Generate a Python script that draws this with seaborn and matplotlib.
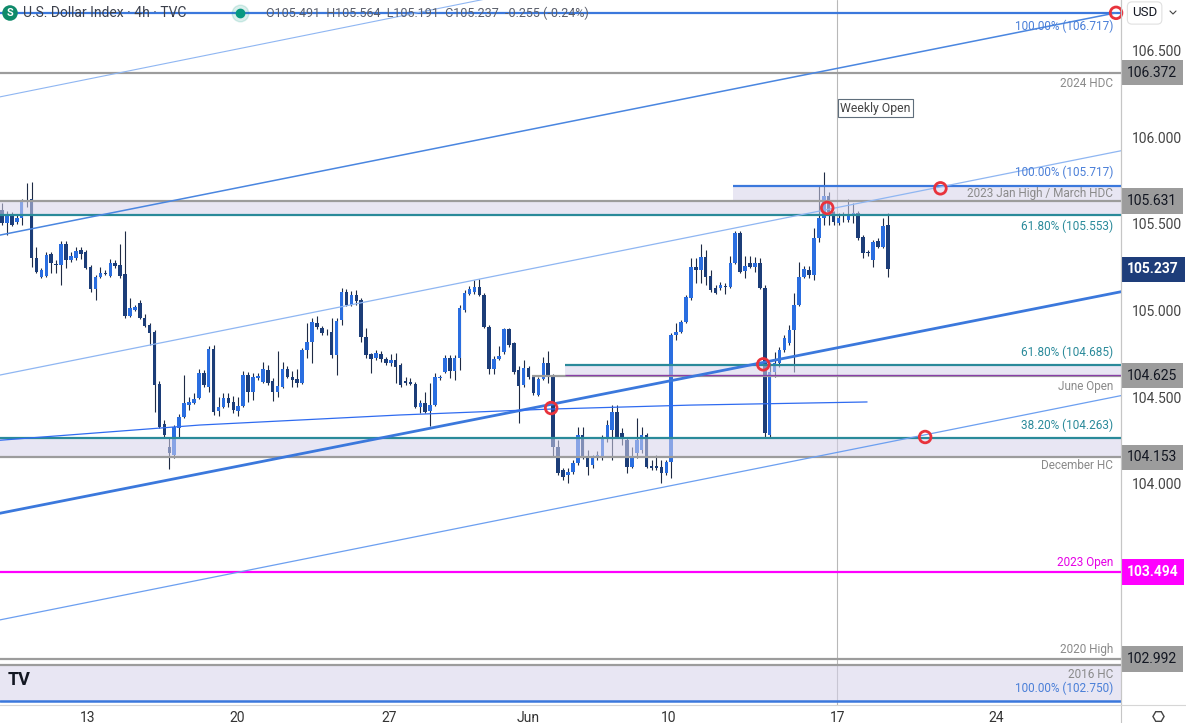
import numpy as np
import pandas as pd
import matplotlib
matplotlib.use("Agg")
import matplotlib.pyplot as plt
import matplotlib.transforms as mtransforms
from matplotlib.lines import Line2D
import seaborn as sns

# ---------------- datos: velas 4h (U.S. Dollar Index) ----------------
opens = [
    105.580, 105.505, 105.551, 105.511, 105.534, 105.632, 105.644, 105.304, 105.194, 105.200,
    105.327, 105.269, 105.263, 105.384, 105.292, 105.304, 105.350, 105.338, 105.252, 105.125,
    105.194, 105.217, 105.200, 105.275, 105.263, 105.211, 104.969, 105.004, 105.044, 104.957,
    104.917, 104.877, 104.577, 104.346, 104.213, 104.167, 104.323, 104.386, 104.456, 104.467,
    104.496, 104.640, 104.559, 104.779, 104.421, 104.444, 104.496, 104.473, 104.421, 104.450,
    104.629, 104.531, 104.611, 104.588, 104.657, 104.594, 104.531, 104.559, 104.663, 104.617,
    104.606, 104.583, 104.773, 104.819, 104.928, 104.900, 104.877, 104.877, 104.744, 104.946,
    105.108, 105.033, 105.090, 105.061, 104.848, 104.750, 104.727, 104.750, 104.721, 104.698,
    104.715, 104.686, 104.594, 104.588, 104.577, 104.444, 104.467, 104.421, 104.456, 104.612,
    104.646, 104.727, 104.652, 104.727, 105.004, 105.096, 105.108, 105.136, 105.090, 104.905,
    104.663, 104.721, 104.761, 104.894, 104.813, 104.657, 104.571, 104.669, 104.617, 104.513,
    104.606, 104.698, 104.629, 104.213, 104.081, 104.052, 104.069, 104.121, 104.283, 104.156,
    104.110, 104.161, 104.156, 104.271, 104.311, 104.415, 104.294, 104.254, 104.098, 104.179,
    104.196, 104.283, 104.104, 104.104, 104.098, 104.063, 104.127, 104.859, 104.877, 104.934,
    105.073, 105.252, 105.234, 105.309, 105.200, 105.131, 105.131, 105.142, 105.136, 105.275,
    105.448, 105.229, 105.275, 105.252, 105.275, 105.131, 104.283, 104.646, 104.698, 104.773,
    104.813, 104.888, 105.033, 105.194, 105.234, 105.206, 105.419, 105.534, 105.661, 105.569,
    105.505, 105.532, 105.523, 105.557, 105.563, 105.424, 105.338, 105.292, 105.401, 105.367,
    105.491,
]
highs = [
    105.620, 105.574, 105.569, 105.551, 105.644, 105.736, 105.741, 105.367, 105.246, 105.338,
    105.338, 105.292, 105.401, 105.401, 105.338, 105.367, 105.367, 105.350, 105.263, 105.206,
    105.252, 105.234, 105.298, 105.292, 105.384, 105.459, 105.073, 105.033, 105.061, 104.980,
    104.928, 104.888, 104.594, 104.369, 104.265, 104.340, 104.404, 104.629, 104.502, 104.525,
    104.663, 104.657, 104.796, 104.802, 104.502, 104.525, 104.525, 104.507, 104.502, 104.652,
    104.646, 104.640, 104.640, 104.704, 104.686, 104.611, 104.767, 104.704, 104.680, 104.652,
    104.663, 104.784, 104.928, 104.957, 104.969, 104.911, 104.894, 104.957, 104.957, 105.131,
    105.125, 105.113, 105.119, 105.073, 104.900, 104.756, 104.773, 104.767, 104.733, 104.750,
    104.756, 104.698, 104.617, 104.611, 104.588, 104.484, 104.531, 104.583, 104.640, 104.629,
    104.744, 104.744, 104.744, 105.033, 105.119, 105.142, 105.177, 105.183, 105.101, 104.917,
    104.738, 104.796, 104.900, 104.900, 104.819, 104.680, 104.715, 104.680, 104.623, 104.617,
    104.733, 104.767, 104.634, 104.254, 104.092, 104.092, 104.138, 104.329, 104.329, 104.196,
    104.167, 104.190, 104.283, 104.369, 104.456, 104.456, 104.323, 104.271, 104.213, 104.381,
    104.329, 104.294, 104.138, 104.167, 104.138, 104.138, 104.871, 104.928, 104.946, 105.090,
    105.303, 105.303, 105.384, 105.350, 105.234, 105.148, 105.165, 105.160, 105.315, 105.459,
    105.459, 105.315, 105.315, 105.309, 105.303, 105.148, 104.698, 104.761, 104.790, 104.859,
    104.917, 105.102, 105.281, 105.258, 105.258, 105.476, 105.724, 105.799, 105.684, 105.574,
    105.563, 105.569, 105.644, 105.620, 105.574, 105.436, 105.350, 105.407, 105.419, 105.534,
    105.564,
]
lows = [
    105.494, 105.436, 105.488, 105.500, 105.494, 105.598, 105.252, 105.217, 105.188, 105.194,
    105.217, 105.217, 105.148, 105.246, 105.281, 105.292, 105.298, 105.240, 105.108, 105.061,
    105.188, 105.206, 105.194, 105.246, 105.188, 104.957, 104.963, 104.998, 104.952, 104.905,
    104.802, 104.415, 104.323, 104.271, 104.087, 104.150, 104.271, 104.381, 104.427, 104.461,
    104.490, 104.559, 104.531, 104.398, 104.392, 104.438, 104.444, 104.409, 104.392, 104.444,
    104.473, 104.484, 104.600, 104.583, 104.571, 104.479, 104.502, 104.554, 104.611, 104.559,
    104.559, 104.577, 104.727, 104.698, 104.894, 104.859, 104.859, 104.727, 104.629, 104.917,
    105.027, 105.027, 105.033, 104.819, 104.727, 104.640, 104.715, 104.704, 104.686, 104.681,
    104.583, 104.559, 104.571, 104.571, 104.438, 104.409, 104.409, 104.334, 104.450, 104.600,
    104.640, 104.611, 104.600, 104.657, 104.992, 105.090, 105.096, 105.084, 104.900, 104.634,
    104.634, 104.715, 104.750, 104.790, 104.634, 104.352, 104.559, 104.606, 104.513, 104.507,
    104.600, 104.583, 104.156, 104.052, 104.023, 104.006, 104.058, 104.110, 104.144, 104.052,
    104.092, 104.138, 104.138, 104.242, 104.138, 104.265, 104.225, 104.063, 104.092, 104.150,
    104.179, 104.092, 104.081, 104.081, 104.006, 104.052, 104.035, 104.830, 104.871, 104.928,
    105.061, 105.160, 105.160, 105.148, 105.108, 105.096, 105.119, 105.096, 105.131, 105.269,
    105.217, 105.188, 105.246, 105.223, 105.125, 104.271, 104.271, 104.617, 104.675, 104.761,
    104.802, 104.646, 105.027, 105.188, 105.188, 105.177, 105.396, 105.494, 105.494, 105.494,
    105.494, 105.511, 105.511, 105.505, 105.407, 105.304, 105.315, 105.252, 105.361, 105.361,
    105.191,
]
closes = [
    105.505, 105.551, 105.494, 105.534, 105.626, 105.638, 105.304, 105.223, 105.234, 105.321,
    105.275, 105.263, 105.384, 105.292, 105.315, 105.344, 105.327, 105.246, 105.125, 105.194,
    105.217, 105.211, 105.275, 105.258, 105.200, 104.969, 105.015, 105.021, 104.957, 104.911,
    104.871, 104.571, 104.329, 104.283, 104.179, 104.329, 104.386, 104.467, 104.473, 104.490,
    104.640, 104.571, 104.779, 104.415, 104.444, 104.496, 104.467, 104.427, 104.450, 104.629,
    104.531, 104.617, 104.623, 104.663, 104.583, 104.531, 104.565, 104.663, 104.617, 104.600,
    104.583, 104.773, 104.819, 104.934, 104.905, 104.871, 104.874, 104.744, 104.940, 105.108,
    105.033, 105.090, 105.056, 104.848, 104.744, 104.721, 104.756, 104.721, 104.698, 104.715,
    104.675, 104.571, 104.583, 104.577, 104.444, 104.467, 104.415, 104.456, 104.617, 104.617,
    104.727, 104.652, 104.727, 105.015, 105.101, 105.125, 105.136, 105.090, 104.905, 104.663,
    104.721, 104.738, 104.894, 104.802, 104.646, 104.565, 104.669, 104.617, 104.525, 104.606,
    104.698, 104.629, 104.213, 104.063, 104.040, 104.069, 104.121, 104.283, 104.156, 104.098,
    104.150, 104.167, 104.271, 104.340, 104.415, 104.271, 104.265, 104.098, 104.156, 104.254,
    104.283, 104.098, 104.092, 104.092, 104.063, 104.127, 104.859, 104.877, 104.934, 105.079,
    105.252, 105.234, 105.309, 105.194, 105.119, 105.102, 105.148, 105.136, 105.275, 105.448,
    105.223, 105.258, 105.252, 105.275, 105.131, 104.294, 104.646, 104.698, 104.773, 104.842,
    104.888, 105.033, 105.194, 105.240, 105.206, 105.419, 105.534, 105.661, 105.569, 105.511,
    105.534, 105.536, 105.551, 105.563, 105.419, 105.332, 105.334, 105.396, 105.367, 105.488,
    105.237,
]

# eje de tiempo (posicion en barras) y etiquetas
tick_pos = [17.3, 47.8, 78.7, 106.9, 135.4, 169.9, 202.0]
tick_labels = ['13', '20', '27', 'Jun', '10', '17', '24']
price_ticks = [104.0, 104.5, 105.0, 105.5, 106.0, 106.5]

# niveles horizontales
lvl_fib_top = 106.717
lvl_2024_hdc = 106.372
lvl_jan_high = 105.717
lvl_zone_top = 105.631
lvl_fib_618 = 105.553
lvl_fib_618b = 104.685
lvl_june_open = 104.625
lvl_fib_382 = 104.263
lvl_dec_hc = 104.153
lvl_2023_open = 103.494
lvl_2020_high = 102.992
lvl_2016_hc = 102.956
lvl_fib_low = 102.750

# lineas de tendencia (barra, precio)
upper_line = ([-1.0, 226.4], [105.432, 106.717])
chan_a = ([-1.0, 110.0], [106.229, 106.864])
chan_b = ([-1.0, 228.0], [104.625, 105.925])
chan_c = ([-1.0, 228.0], [103.213, 104.513])
lower_line = ([-1.0, 228.0], [103.828, 105.112])
curve_x = [-1.0, 40.2, 80.9, 111.4, 140.0, 175.8]
curve_y = [104.251, 104.340, 104.398, 104.432, 104.455, 104.473]
weekly_open_bar = 169.7

circle_x = [226.4, 190.7, 167.7, 111.6, 154.7, 187.6]
circle_y = [106.717, 105.705, 105.592, 104.438, 104.690, 104.271]

# ---------------- estilo ----------------
sns.set_theme(style="white")
plt.rcParams['font.family'] = ['Roboto', 'DejaVu Sans']

BULL = '#2a6ee0'
BEAR = '#1c3d78'
WICK = '#1e2a44'
GREY = '#9c9c9c'
TEAL = '#2a8a9a'
BLUE = '#3b78dc'
MAGENTA = '#ff00ff'
ZONE = '#d6d2ea'
RED = '#e8333c'

fig = plt.figure(figsize=(11.86, 7.23), dpi=100)
ax = fig.add_axes([0, 18 / 723, 1121 / 1186, 705 / 723])
ax.set_facecolor('white')

df = pd.DataFrame({'open': opens, 'high': highs, 'low': lows, 'close': closes})
df['bar'] = np.arange(len(df))
up = df['close'] >= df['open']

# velas
ax.vlines(df['bar'], df['low'], df['high'], color=WICK, lw=0.8, zorder=3)
body_h = (df['close'] - df['open']).abs().clip(lower=0.004)
body_b = df[['open', 'close']].min(axis=1)
ax.bar(df['bar'], body_h, bottom=body_b, width=0.72,
       color=np.where(up, BULL, BEAR), linewidth=0, zorder=4)

xmin, xmax = -0.41, 227.4
ax.set_xlim(xmin, xmax)
ax.set_ylim(102.7255, 106.791)

# zonas
ax.axhspan(lvl_fib_618, lvl_zone_top, color=ZONE, alpha=0.55, lw=0, zorder=5)
ax.fill_between([148.6, xmax], lvl_zone_top, lvl_jan_high, color=ZONE, alpha=0.55, lw=0, zorder=5)
ax.fill_between([114.4, xmax], lvl_june_open, lvl_fib_618b, color=ZONE, alpha=0.55, lw=0, zorder=5)
ax.axhspan(lvl_dec_hc, lvl_fib_382, color=ZONE, alpha=0.55, lw=0, zorder=5)
ax.axhspan(lvl_fib_low, lvl_2016_hc, color=ZONE, alpha=0.55, lw=0, zorder=5)

# niveles
ax.axhline(lvl_fib_top, color=BLUE, lw=1.6, zorder=6)
ax.axhline(lvl_2024_hdc, color=GREY, lw=1.6, zorder=6)
ax.hlines(lvl_jan_high, 148.6, xmax, color=BLUE, lw=1.6, zorder=6)
ax.axhline(lvl_zone_top, color=GREY, lw=1.6, zorder=6)
ax.axhline(lvl_fib_618, color=TEAL, lw=1.6, zorder=6)
ax.hlines(lvl_fib_618b, 114.4, xmax, color=TEAL, lw=1.6, zorder=6)
ax.hlines(lvl_june_open, 107.7, xmax, color=GREY, lw=1.6, zorder=6)
ax.hlines(lvl_june_open + 0.005, 114.4, xmax, color='#8a3fa8', lw=0.9, zorder=6)
ax.axhline(lvl_fib_382, color=TEAL, lw=1.6, zorder=6)
ax.axhline(lvl_dec_hc, color=GREY, lw=1.6, zorder=6)
ax.axhline(lvl_2023_open, color=MAGENTA, lw=1.6, zorder=6)
ax.axhline(lvl_2020_high, color=GREY, lw=1.6, zorder=6)
ax.axhline(lvl_2016_hc, color=GREY, lw=1.6, zorder=6)
ax.axhline(lvl_fib_low, color=BLUE, lw=1.8, zorder=6)

# lineas de tendencia / canal
sns.lineplot(x=upper_line[0], y=upper_line[1], ax=ax, color='#4a86e0', lw=1.1, zorder=7)
sns.lineplot(x=chan_a[0], y=chan_a[1], ax=ax, color='#8fb6f2', lw=0.8, zorder=7)
sns.lineplot(x=chan_b[0], y=chan_b[1], ax=ax, color='#8fb6f2', lw=0.9, zorder=7)
sns.lineplot(x=chan_c[0], y=chan_c[1], ax=ax, color='#6c9ff0', lw=0.9, zorder=7)
sns.lineplot(x=lower_line[0], y=lower_line[1], ax=ax, color='#3b78dc', lw=2.0, zorder=7)
sns.lineplot(x=curve_x, y=curve_y, ax=ax, color='#2f6bf0', lw=0.9, zorder=7, sort=False)
ax.axvline(weekly_open_bar, color='#b8b8b8', lw=0.8, zorder=2)

ax.scatter(circle_x, circle_y, s=70, facecolors='none', edgecolors=RED,
           linewidths=2, zorder=9, clip_on=False)

# etiquetas de niveles
trans = mtransforms.blended_transform_factory(ax.transAxes, ax.transData)
lab_x = 1113 / 1121
labels = [
    ("100.00% (106.717)", 106.641, '#4a7fd8'),
    ("2024 HDC", 106.312, '#8a8a8a'),
    ("100.00% (105.717)", 105.799, '#4a7fd8'),
    ("2023 Jan High / March HDC", 105.676, '#8a8a8a'),
    ("61.80% (105.553)", 105.488, TEAL),
    ("61.80% (104.685)", 104.761, TEAL),
    ("June Open", 104.565, '#8a8a8a'),
    ("38.20% (104.263)", 104.340, TEAL),
    ("December HC", 104.104, '#8a8a8a'),
    ("2023 Open", 103.550, '#e600e6'),
    ("2020 High", 103.048, '#8a8a8a'),
    ("2016 HC", 102.904, '#8a8a8a'),
    ("100.00% (102.750)", 102.823, '#4a7fd8'),
]
for txt, yv, col in labels:
    ax.text(lab_x, yv, txt, transform=trans, ha='right', va='center',
            fontsize=8.5, color=col, zorder=8)

ax.text(170.3, 106.168, "Weekly Open", ha='left', va='center', fontsize=8.8,
        color='#444444', zorder=8,
        bbox=dict(boxstyle='square,pad=0.2', fc='white', ec='#5f6e7c', lw=0.8))

# eje de precios
ax.yaxis.tick_right()
ax.set_yticks(price_ticks)
ax.set_yticklabels([f"{v:.3f}" for v in price_ticks])
ax.tick_params(axis='y', length=0, pad=8, labelsize=10, labelcolor='#444444')
ax.set_xticks(tick_pos)
ax.set_xticklabels(tick_labels)
ax.tick_params(axis='x', length=0, pad=4, labelsize=10, labelcolor='#333333')
for s in ['top', 'left']:
    ax.spines[s].set_visible(False)
ax.spines['right'].set_color('#c6c6c6')
ax.spines['right'].set_linewidth(0.8)
ax.spines['bottom'].set_color('#d6d6d6')
ax.spines['bottom'].set_linewidth(0.8)
ax.grid(False)

tags = [
    (lvl_2024_hdc, "106.372", GREY, '#131722'),
    (lvl_zone_top, "105.631", GREY, '#131722'),
    (closes[-1], "105.237", '#1e3d7a', 'white'),
    (lvl_june_open, "104.625", GREY, '#131722'),
    (lvl_dec_hc, "104.153", GREY, '#131722'),
    (lvl_2023_open, "103.494", MAGENTA, 'white'),
    (lvl_2020_high, "102.992", GREY, '#131722'),
]
for yv, txt, fc, tc in tags:
    ax.text(1 + 6 / 1121, yv, txt, transform=trans, ha='left', va='center',
            fontsize=10, color=tc, clip_on=False, zorder=12,
            fontweight='bold' if tc == 'white' else 'normal',
            bbox=dict(boxstyle='square,pad=0.42', fc=fc, ec='none'))

# separadores de la escala
fig.add_artist(Line2D([1121 / 1186, 1121 / 1186], [0, 1], transform=fig.transFigure,
                      color='#c6c6c6', lw=0.8))
fig.add_artist(Line2D([1121 / 1186, 1], [18 / 723, 18 / 723], transform=fig.transFigure,
                      color='#d6d6d6', lw=0.8))

# cabecera
hy = 1 - 13 / 723
fig.text(10 / 1186, hy, "S", fontsize=8, fontweight='bold', color='white', ha='center',
         va='center', bbox=dict(boxstyle='circle,pad=0.25', fc='#0f8a6a', ec='none'))
fig.text(23 / 1186, hy, "U.S. Dollar Index · 4h · TVC", fontsize=10, color='#3b3f4a',
         va='center')
fig.add_artist(Line2D([240 / 1186], [hy], marker='o', markersize=12, color='#089981',
                      alpha=0.15, transform=fig.transFigure))
fig.add_artist(Line2D([240 / 1186], [hy], marker='o', markersize=6, color='#089981',
                      transform=fig.transFigure))
fig.text(266 / 1186, hy, "O105.491  H105.564  L105.191  C105.237  -0.255 (-0.24%)",
         fontsize=9, color='#5a5e6a', va='center')

# caja USD
fig.text(1132 / 1186, hy, "USD", fontsize=9.5, color='#131722', va='center',
         bbox=dict(boxstyle='round,pad=0.35', fc='white', ec='#e0e0e0', lw=0.8))
fig.add_artist(Line2D([1170 / 1186, 1173 / 1186, 1176 / 1186],
                      [hy + 2 / 723, hy - 1 / 723, hy + 2 / 723],
                      transform=fig.transFigure, color='#444444', lw=0.8))

# logo y ajustes
fig.text(8 / 1186, 1 - 680 / 723, "TV", fontsize=13, fontweight='bold', color='#131722',
         va='center')
fig.add_artist(Line2D([1158 / 1186], [1 - 716 / 723], marker='H', markersize=8,
                      markerfacecolor='none', markeredgecolor='#444444',
                      transform=fig.transFigure))

fig.savefig('out.png', dpi=100)
